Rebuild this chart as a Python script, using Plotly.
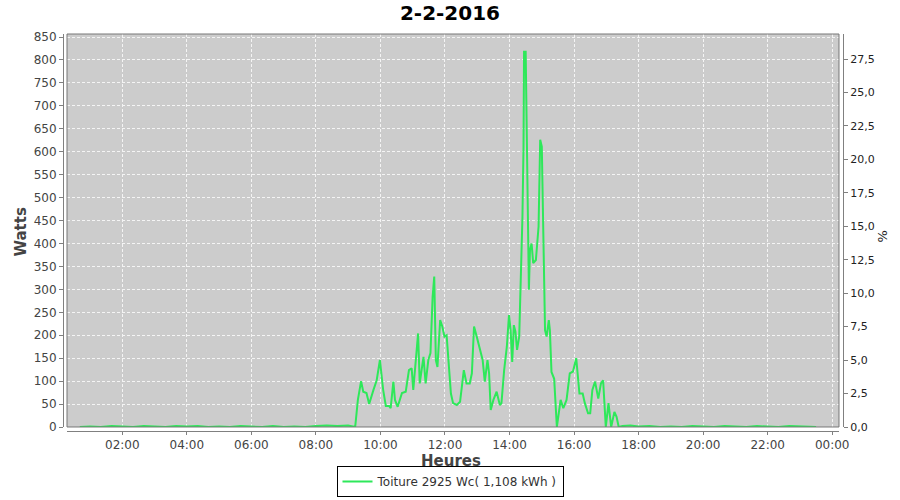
import plotly.graph_objects as go

DATE = "2016-02-02"

times = [
    "00:41", "01:00", "01:20", "01:40", "02:00", "02:20", "02:40", "03:00", "03:20", "03:40",
    "04:00", "04:20", "04:40", "05:00", "05:20", "05:40", "06:00", "06:20", "06:40", "07:00",
    "07:20", "07:40", "08:00", "08:20", "08:40", "09:00", "09:13",
    "09:18", "09:24", "09:28", "09:34", "09:39", "09:47", "09:53", "09:59", "10:05", "10:10",
    "10:16", "10:19", "10:24", "10:27", "10:32", "10:40", "10:47", "10:53", "10:58", "11:01",
    "11:10", "11:13", "11:20", "11:24", "11:29", "11:33", "11:37", "11:40", "11:43", "11:46",
    "11:51", "11:55", "11:59", "12:03", "12:07", "12:11", "12:15", "12:22", "12:28", "12:32",
    "12:35", "12:40", "12:46", "12:50", "12:54", "12:59", "13:05", "13:10", "13:14", "13:19",
    "13:22", "13:25", "13:30", "13:36", "13:42", "13:45", "13:50", "13:55", "13:59", "14:02",
    "14:05", "14:08", "14:11", "14:14", "14:18", "14:21", "14:24", "14:26", "14:27", "14:30",
    "14:33", "14:36", "14:38", "14:41", "14:44", "14:49", "14:54", "14:57", "15:00", "15:03",
    "15:06", "15:09", "15:13", "15:15", "15:18", "15:23", "15:26", "15:28", "15:35", "15:40",
    "15:46", "15:52", "15:58", "16:04", "16:10", "16:16", "16:20", "16:26", "16:30", "16:34",
    "16:39", "16:45", "16:50", "16:54", "16:59", "17:04", "17:09", "17:15", "17:19", "17:23",
    "17:30", "17:45", "18:00", "18:20", "18:40", "19:00", "19:20", "19:40", "20:00", "20:20",
    "20:40", "21:00", "21:20", "21:40", "22:00", "22:20", "22:40", "23:00", "23:15", "23:30",
]

watts = [
    0, 1, 0, 2, 1, 0, 2, 1, 0, 2,
    1, 2, 0, 1, 0, 2, 1, 0, 2, 0,
    1, 0, 2, 3, 2, 3, 0,
    59, 100, 77, 74, 50, 81, 102, 146, 81, 46,
    46, 41, 99, 59, 44, 74, 77, 124, 128, 81,
    204, 95, 153, 95, 146, 161, 284, 328, 146, 131,
    233, 219, 197, 200, 139, 73, 52, 48, 55, 102,
    124, 95, 95, 117, 219, 197, 168, 146, 99, 146,
    117, 37, 59, 77, 48, 52, 124, 175, 244, 211,
    142, 222, 208, 168, 197, 313, 458, 611, 818, 818,
    502, 299, 386, 400, 357, 364, 437, 626, 611, 357,
    211, 197, 233, 211, 120, 105, 55, 0, 59, 41,
    59, 117, 121, 150, 73, 73, 52, 30, 30, 81,
    99, 62, 95, 102, 0, 52, 0, 33, 22, 0,
    2, 3, 1, 2, 0, 1, 0, 2, 1, 0,
    2, 1, 0, 2, 1, 0, 2, 1, 0, 0,
]

series_name = "Toiture 2925 Wc( 1,108 kWh )"
chart_title = "2-2-2016"

x_vals = [f"{DATE} {t}:00" for t in times]

fig = go.Figure()
fig.add_trace(go.Scatter(
    x=x_vals, y=watts, mode="lines", name=series_name,
    line=dict(color="#2ee85a", width=2),
))
# invisible trace for the right (%) axis
fig.add_trace(go.Scatter(x=[x_vals[0]], y=[0], yaxis="y2", mode="lines",
                         showlegend=False, hoverinfo="skip",
                         line=dict(color="rgba(0,0,0,0)")))

tick_font = dict(family="DejaVu Sans", size=12, color="#444444")
grid_dash = "3px,2px"

fig.update_layout(
    width=900, height=500,
    paper_bgcolor="white", plot_bgcolor="#cccccc",
    separators=",.",
    margin=dict(l=63, r=57, t=34, b=69, autoexpand=False),
    title=dict(text="<b>" + chart_title + "</b>", x=0.5, xref="container", xanchor="center",
               y=0.974, yref="container", yanchor="middle",
               font=dict(family="DejaVu Sans", size=20, color="#000000")),
    xaxis=dict(
        type="date", domain=[0.00513, 0.99487], anchor="free", position=0,
        range=["2016-02-02 00:17:10", "2016-02-03 00:12:36"],
        tick0="2016-02-02 00:00:00", dtick=7200000, tickformat="%H:%M",
        showline=True, linecolor="#808080", linewidth=1,
        ticks="outside", ticklen=3, tickcolor="#808080",
        showgrid=True, gridcolor="#f4f4f4", griddash=grid_dash, gridwidth=1,
        tickfont=tick_font, zeroline=False, automargin=False,
    ),
    yaxis=dict(
        domain=[0.01008, 1], anchor="free", position=0,
        range=[0, 856.6], dtick=50, tick0=0,
        showline=True, linecolor="#808080", linewidth=1,
        ticks="outside", ticklen=4, tickcolor="#808080",
        showgrid=True, gridcolor="#f4f4f4", griddash=grid_dash, gridwidth=1,
        tickfont=tick_font, zeroline=False, automargin=False,
    ),
    yaxis2=dict(
        overlaying="y", side="right", anchor="free", position=1,
        range=[0, 29.37], dtick=2.5, tick0=0, tickformat=".1f",
        showline=True, linecolor="#808080", linewidth=1,
        ticks="outside", ticklen=4, tickcolor="#808080",
        showgrid=False, zeroline=False, automargin=False,
        tickfont=dict(family="DejaVu Sans", size=11, color="#222222"),
    ),
    showlegend=True,
    legend=dict(
        orientation="h", xref="container", yref="container",
        x=0.5, xanchor="center", y=0.006, yanchor="bottom",
        bgcolor="white", bordercolor="#000000", borderwidth=1,
        font=dict(family="DejaVu Sans", size=12, color="#333333"),
        itemwidth=30, tracegroupgap=0,
    ),
    annotations=[
        dict(text="<b>Watts</b>", xref="paper", yref="paper", x=-0.0551, y=0.5,
             textangle=-90, showarrow=False, xanchor="center", yanchor="middle",
             font=dict(family="DejaVu Sans", size=15, color="#444444")),
        dict(text="<b>Heures</b>", xref="paper", yref="paper", x=0.4974, y=-0.0765,
             showarrow=False, xanchor="center", yanchor="middle",
             font=dict(family="DejaVu Sans", size=15, color="#444444")),
        dict(text="%", xref="paper", yref="paper", x=1.05, y=0.49,
             textangle=-90, showarrow=False, xanchor="center", yanchor="middle",
             font=dict(family="DejaVu Sans", size=13, color="#222222")),
    ],
    shapes=[
        dict(type="rect", xref="x domain", yref="y domain", x0=0, x1=1, y0=0, y1=1,
             line=dict(color="#777777", width=1), fillcolor="rgba(0,0,0,0)", layer="above"),
    ],
)

fig.write_html("out.html", config={"displayModeBar": False},
               post_script="document.body.style.margin='0px';")
